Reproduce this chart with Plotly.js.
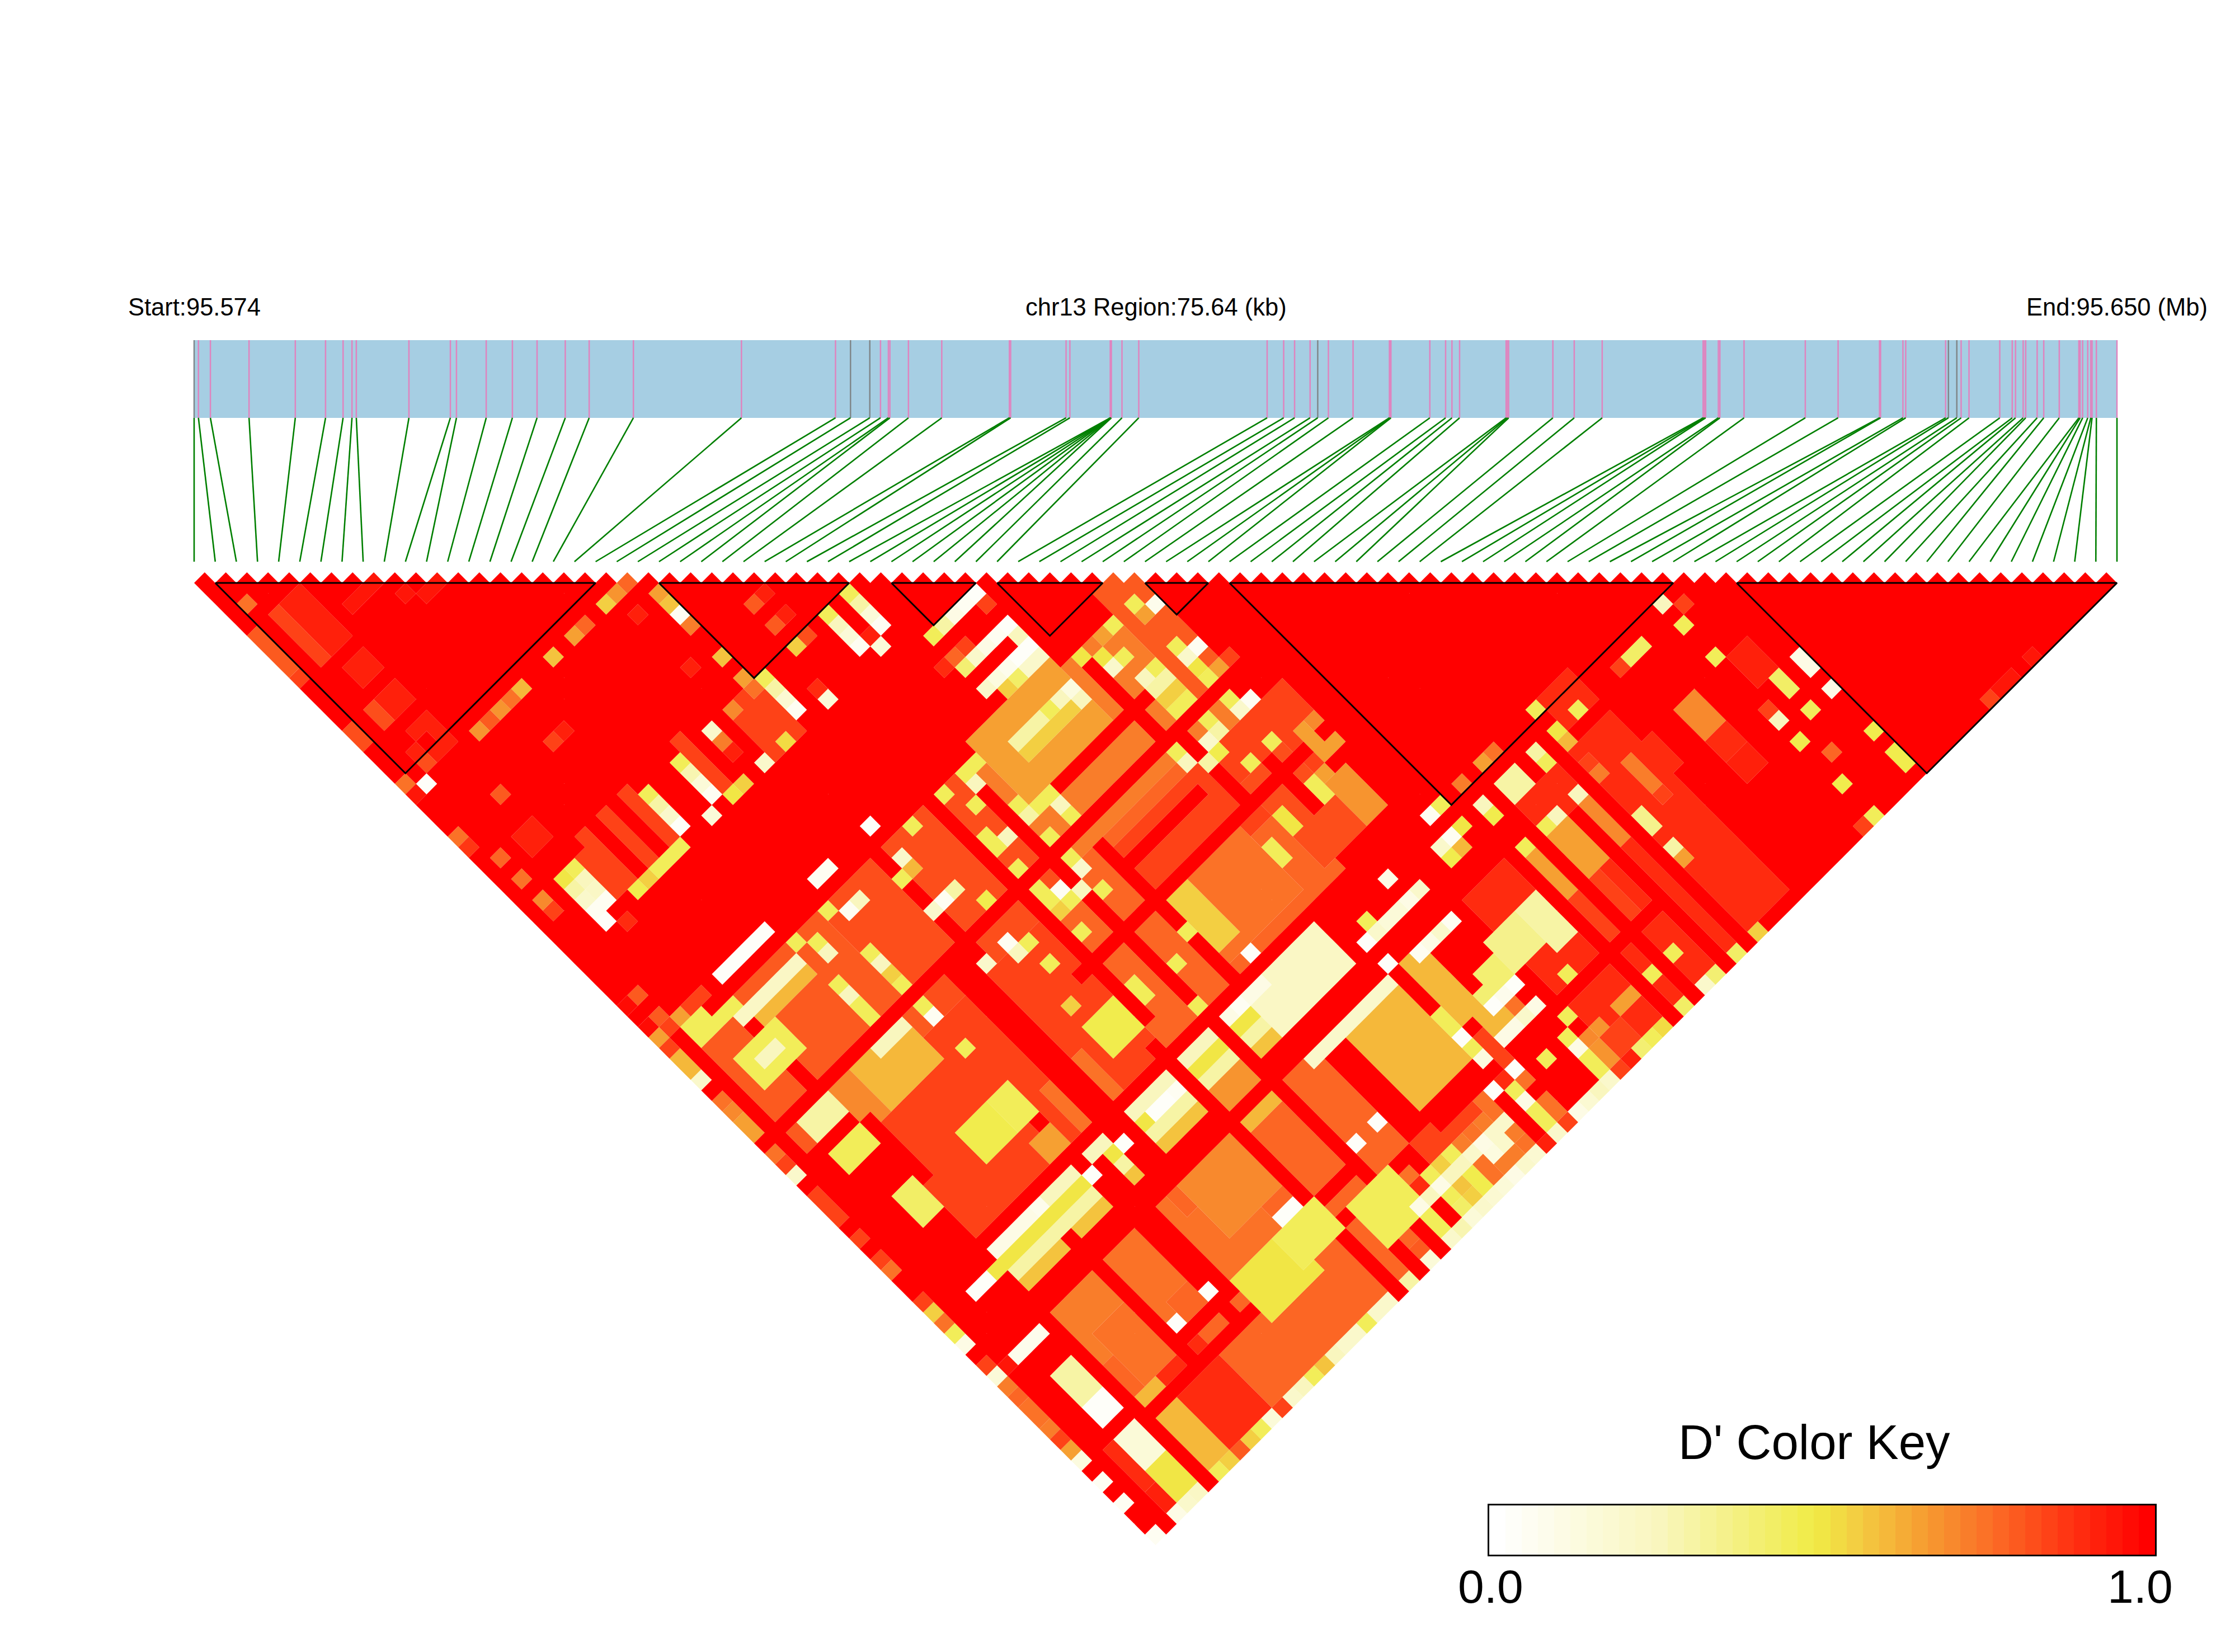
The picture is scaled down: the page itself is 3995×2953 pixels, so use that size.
<!DOCTYPE html>
<html><head><meta charset="utf-8"><script src="https://cdn.plot.ly/plotly-3.0.1.min.js"></script>
<style>html,body{margin:0;padding:0;background:#fff}</style></head><body><div id="chart" style="width:3995px;height:2953px"></div>
<script>
const regionKb = 75.64;
const snpKb = [0,0.17,0.64,2.16,3.98,5.17,5.86,6.21,6.38,8.45,10.08,10.32,11.49,12.52,13.49,14.60,15.54,17.28,21.53,25.23,25.82,26.58,27.00,27.31,27.37,28.10,29.41,32.07,32.12,34.30,34.45,36.04,36.05,36.06,36.06,36.07,36.08,36.50,37.16,42.21,42.86,43.29,43.90,44.20,44.62,45.59,47.02,47.05,47.08,48.61,49.23,49.48,49.78,51.61,51.66,51.71,53.45,54.29,55.39,59.36,59.41,59.46,59.96,60.02,60.97,63.38,64.67,66.30,66.34,67.22,67.33,68.90,69.01,69.34,69.51,69.82,71.03,71.52,71.65,71.95,72.05,72.50,72.76,73.37,74.14,74.19,74.29,74.49,74.61,74.66,74.83,75.64];
const greyKb = [0,25.82,26.58,44.20,69.01,69.34];
const blocks = [[1,19],[22,31],[33,37],[38,43],[45,48],[49,70],[73,91]];
const keyAnchors = [[0,'#ffffff'],[0.25,'#f9f6be'],[0.49,'#f0eb45'],[0.55,'#f3cf42'],[0.65,'#f6a032'],[0.76,'#fb6d26'],[0.88,'#ff3412'],[1,'#ff0000']];

// D' patches: [iFrom,iTo,jFrom,jTo,D']; every other pair reads 1.0
const broadAreas = [
 [6,28,56,69,.85],[2,14,46,56,.8],[14,30,46,56,.82],[6,30,76,90,.78],[28,42,46,56,.72],[42,44,44,53,.8],[24,40,56,69,.78],[30,46,57,62,.85],[45,60,74,90,.9],
 [19,21,32,36,.86],[8,8,31,35,.85],[10,10,31,35,.85],[6,6,31,35,.85],[5,5,32,35,.85],[15,15,31,35,.85],
 [6,29,70,70,.25],[6,29,71,71,.5],[6,29,72,72,.3],[6,29,73,73,.58],
 [31,37,62,67,.75],[31,32,62,66,.55],[30,36,70,73,.22],[33,41,75,83,.6],[29,36,45,50,.65],[5,10,74,80,.72],[10,16,75,80,.75],[7,11,79,83,.76],
 [16,20,78,82,.75],[18,22,75,80,.7],[16,19,65,68,.75],[23,27,73,75,.68],[24,27,75,76,.6],[6,9,55,58,.7],[8,12,54,58,.6],[8,11,84,90,.9],[6,7,84,90,.6],
 [40,43,60,67,.82],[44,45,64,67,.68],[45,46,60,62,.65],[49,53,77,80,.66],[49,52,81,84,.85],[64,65,77,79,.7],[64,65,80,81,.9],[60,61,77,79,.9],
 [55,55,76,80,.7],[69,70,77,79,.92],[64,65,82,83,.92],[58,60,70,72,.9],[47,48,79,82,.3],[44,46,79,81,.35],[41,43,80,81,.4],
 [2,2,85,88,.9],[3,4,85,87,.15],[3,4,88,90,.5],[2,2,89,90,.92]
];
const redStripes = [
 [0,46,54,54,1],[0,20,74,74,1],[40,51,74,74,1],[0,51,75,75,1],[23,46,61,61,1],[6,45,69,69,1],[5,53,85,85,1],[10,27,83,83,1],[29,39,51,51,1],[30,37,58,58,1],
 [1,1,46,91,1],[5,5,48,91,1],[17,18,54,75,1],[14,14,66,84,1],[15,15,71,82,1],[10,10,73,84,1],[19,19,41,56,1],[23,23,68,91,1],[24,24,44,66,1],[25,25,87,91,1],[27,27,46,91,1],[30,30,56,69,1],
 [38,38,47,54,1],[39,39,55,60,1],[42,42,60,64,1],[38,38,76,79,1],[41,41,76,80,1],[49,49,72,91,1],[51,51,70,91,1],[54,54,77,91,1],[56,56,74,91,1],
 [2,6,58,63,1],[2,5,65,69,1],[2,5,76,78,1],[45,47,46,48,1]
];
const paleColumns = [
 [6,10,70,70,.1],[5,10,71,71,.5],[38,43,84,84,.1],[30,37,76,76,.2],[40,43,76,76,.06],[39,43,73,73,.2],[28,31,70,70,.1],
 [5,10,47,47,.22],[6,10,48,48,.6],[3,5,46,46,.45],[6,10,44,44,.03],[15,16,44,44,.04],[31,36,47,47,.3],[31,36,48,48,.55],[6,10,36,36,.47],
 [3,4,79,81,.3],[3,4,82,83,.03],[3,4,71,71,.02],[4,5,63,65,.42],[10,12,63,65,.48],[13,14,63,65,.45],[3,6,49,51,.45],[4,5,50,50,.25],[2,3,45,46,.45],
 [3,5,55,56,.3],[3,5,58,59,.45],[10,12,55,55,.25],[13,14,67,68,.65],[21,23,64,66,.48],[16,20,83,86,.5],[20,23,83,85,.45],[25,28,85,88,.45],[47,48,88,88,.65],[44,45,88,90,.68],[45,46,89,90,.85]
];
const singleCells = [
 [1,4,.75],[2,6,.85],[2,7,.85],[2,8,.85],[2,9,.85],[2,10,.85],[3,6,.93],[3,7,.93],[3,8,.93],[3,9,.93],[3,10,.93],[4,6,.93],[4,7,.93],[4,8,.93],[4,9,.93],[4,10,.93],
 [6,9,.95],[7,9,.95],[8,9,.95],[9,11,.95],[10,12,.95],[11,12,.95],[3,12,.93],[3,13,.93],[4,12,.93],[4,13,.93],[2,15,.82],[2,16,.82],[3,15,.92],[3,16,.92],[4,15,.92],[4,16,.92],
 [3,18,.92],[4,18,.92],[4,19,.92],[3,20,.92],[4,20,.92],[2,19,.93],[2,20,.83],[1,21,.02],
 [18,21,.55],[19,21,.68],[20,21,.77],[16,21,.77],[15,21,.65],[13,21,.58],[10,21,.6],[9,21,.75],[8,21,.67],[7,21,.8],[6,21,.67],[19,23,.92],[9,25,.85],[10,25,.92],
 [21,23,.66],[21,24,.58],[21,25,.05],[21,26,.72],[25,28,.8],[26,28,.92],[25,30,.8],[26,30,.92],[25,32,.55],[26,32,.82],[21,29,.58],[19,28,.92],[21,31,.65],[21,32,.75],
 [22,32,.45],[22,33,.3],[22,34,.18],[22,35,.04],[19,32,.7],[20,36,.52],[18,36,.2],[16,36,.55],[15,36,.5],[24,35,.9],[24,36,.15],
 [30,32,.45],[30,33,.3],[30,34,.15],[30,35,.05],[28,32,.45],[28,33,.25],[28,34,.15],[28,35,.05],[29,36,.15],[29,35,.92],
 [17,32,.2],[17,33,.72],[17,34,.92],[14,32,.45],[14,33,.27],[14,34,.15],[14,35,.05],[13,36,.15],
 [11,32,.45],[11,33,.3],[11,34,.2],[11,35,.02],[10,36,.45],[9,36,.45],[8,36,.45],[7,36,.55],[6,36,.47],
 [4,32,.45],[4,33,.25],[4,34,.22],[4,35,.05],[3,32,.5],[3,33,.3],[3,34,.2],[3,35,.05],[3,36,.03],[4,37,.9],
 [1,28,.77],[1,30,.75],[3,28,.92],[3,29,.92],[4,28,.92],[4,29,.92],[1,32,.7],[1,33,.85],[4,25,.8],[1,41,.8],[1,43,.8],[2,44,.65],[1,44,.85],[3,44,.85],[4,44,.85],
 [32,38,.45],[33,38,.3],[34,38,.1],[35,38,.06],[36,38,.02],[36,39,.85],[36,41,.02],[35,41,.05],[34,41,.1],[33,41,.2],[32,41,.4],[36,42,.25],[36,43,.02],[35,43,.03],[34,43,.08],[33,43,.12],[32,43,.2],
 [36,44,.2],[35,44,.2],[34,44,.42],[33,44,.55],[33,40,.85],[32,40,.78],[31,40,.9],
 [36,47,.12],[36,48,.25],[35,47,.25],[34,47,.45],
 [44,51,.05],[43,50,.45],[43,51,.2],[43,52,.5],[43,53,.45],[45,53,.85],[44,53,.65],[43,46,.45],[44,47,.08],[43,47,.65],[41,46,.45],[40,46,.65],[40,48,.45],[39,48,.2],[39,47,.5],[38,46,.5],
 [41,50,.45],[41,51,.3],[41,52,.55],[41,53,.45],[40,50,.25],[40,51,.3],[40,52,.55],[40,53,.45],[44,56,.05],[43,55,.45],[43,56,.2],[41,55,.45],[41,56,.3],[40,56,.2],[40,57,.47],[38,55,.45],[38,56,.25],[39,57,.3],[43,59,.45],[41,59,.45],
 [45,60,.65],[45,61,.65],[46,60,.7],[43,63,.45],[43,64,.45],[44,63,.65],[40,63,.5],[40,64,.5],[38,64,.45],[38,65,.45],[47,70,.05],[48,70,.45],[46,72,.2],[47,72,.05],[42,71,.1],[43,73,.2],[41,73,.15],[40,73,.15],
 [68,71,.25],[69,72,.85],[68,73,.45],[65,72,.42],[64,72,.42],[63,72,.85],[68,76,.45],[72,80,.1],[72,81,.1],[72,83,.1],[70,80,.42],[70,81,.42],[70,83,.45],[72,87,.47],[72,89,.47],[72,90,.47],[68,82,.25],[68,81,.85],[68,84,.47],[69,86,.77],[68,88,.47],
 [59,77,.72],[59,78,.72],[59,79,.72],[59,80,.85],[57,80,.35],[57,81,.35],[57,83,.3],[57,84,.65],[57,76,.72],[57,75,.85],[55,76,.25],[53,76,.25],[52,76,.45],[50,76,.45],
 [52,72,.3],[53,72,.3],[52,73,.3],[53,73,.3],[55,72,.3],[55,73,.45],[50,72,.25],[50,73,.47],[57,72,.5],[57,73,.6],[59,72,.45],[57,70,.45],[53,70,.75],[52,70,.65],[50,70,.72],[48,72,.5],[46,73,.47],[47,73,.6],[42,73,.1],[43,76,.05],[42,76,.2],[41,76,.1],
 [43,81,.4],[43,84,.1],[42,84,.2],[41,84,.1],[42,83,.75],[43,82,.03],[42,82,.08],[41,82,.03],[38,82,.02],[39,82,1],[38,80,.45],[38,81,.45],[46,84,.45],[44,86,.45],[43,87,.45],[41,87,.45],[43,88,.1],[43,89,.45],[43,90,.45],[44,88,.7],[50,88,.45],[52,88,.45],
 [39,86,.03],[37,86,.03],[64,78,.7],[20,71,.03],[21,71,.03],[22,71,.05],[17,71,.03],[14,71,.03],[21,82,.03],[22,82,.03],[28,82,.02],[30,82,.03],[14,82,.03],[11,82,.03],[1,76,.95],[2,76,.08],[3,76,.08],[4,76,.08],[8,70,.1],[10,70,.08],
 [20,44,.03],[20,47,.2],[22,46,.45],[19,48,.45],[20,48,.6],[20,51,.05],[21,51,.3],[22,53,.47],[19,51,.2],[21,56,.06],[21,57,.25],[22,57,.45],[19,56,.2],[22,59,.45],
 [28,46,.45],[27,46,.45],[27,47,.25],[25,46,.45],[26,48,.45],[28,50,.45],[28,51,.3],[29,51,.45],[30,51,.45],[30,52,.25],[30,53,.45],[28,53,.45],[25,50,.45],[26,51,.25],[25,51,.45],[25,53,.45],[28,55,.45],[28,56,.2],
 [25,55,.45],[26,56,.06],[27,57,.25],[25,56,.45],[26,57,.45],[25,57,.55],[28,58,.45],[25,59,.45],[14,46,.45],[15,47,.05],[16,47,.25],[11,46,.45],[12,47,.45],[12,48,.25],[14,50,.45],[14,51,.25],[14,52,.55],[14,53,.45],
 [11,50,.45],[11,51,.25],[11,52,.45],[11,53,.45],[14,55,.45],[14,56,.06],[14,59,.45],[25,64,.45],[25,65,.45],[28,65,.45],[21,62,.55],[30,64,.45],[32,68,.03],[38,75,.03],[38,73,.03],[39,72,.45],[27,68,.45],[29,70,.04]
];
// Rows read cell by cell: [i, first j, values]
const rowReads = [
 [26,89,[.78,.8]],[28,87,[.45,.1,.45,.45]],[29,85,[1,.75,.9,.25,1,1]],[30,85,[1,1,.45,.1,.45,.42]],[31,85,[.85,.85,.55,.25,.58,.55]],[32,85,[.85,.85,.45,.25,.47,.48]],
 [33,85,[1,.85,.72,.2,.75,.75]],[34,85,[1,.85,.75,.1,.12,.72]],[35,85,[1,.85,.72,.2,.2,.72]],[36,85,[1,.75,.75,.2,.72,.75]],
 [38,80,[.45,.45,.03,.45,.12,1,.9,.45,.1,.45,.45]],[39,82,[1,.85,.85,.85,.03,.75,1,.75,.75]]
];
const edgeLeft = [1,1,1,1,1,.8,.8,.8,.8,.85,1,1,1,1,.83,.83,1,1,1,.75,.95,1,1,1,.75,.88,1,1,1,1,1,1,1,1,1,1,1,1,1,1,.97,1,.97,.65,.85,.6,.6,.2,1,.75,.7,.65,.65,1,.75,.85,.2,1,.85,.85,.85,1,.85,1,.85,.75,1,1,.85,.55,.75,.45,.1,1,.85,.15,.72,.77,.75,.75,.72,.85,.65,.12,1,.05,1,.05,1,1,.05];
const edgeRight = [.05,1,.1,.2,.22,1,.45,.55,.8,.55,.45,.15,.85,.2,.25,.45,.58,.25,.2,.2,.45,.2,.2,1,.3,1,.15,1,.2,.27,.15,.2,.18,.15,.1,.2,.18,.92,.2,.85,.1,.18,.25,.2,.85,.92,.4,.45,.52,1,.42,1,.2,.4,1,.42,1,.55,1,1,1,1,1,1,1,1,1,.85,.45,1,1,1,1,1,1,1,1,1,1,.85,.95,.95,1,.95,1,1,1,1,1,1,1];

const N = snpKb.length;
const hexToRgb = h => [1,3,5].map(k => parseInt(h.substr(k,2),16));
function colourOf(v){
  for(let k=1;k<keyAnchors.length;k++){
    if(v<=keyAnchors[k][0]){
      const a=keyAnchors[k-1],b=keyAnchors[k],t=(v-a[0])/(b[0]-a[0]);
      const A=hexToRgb(a[1]),B=hexToRgb(b[1]);
      return 'rgb('+A.map((c,n)=>Math.round(c+(B[n]-c)*t)).join(',')+')';
    }
  }
  return keyAnchors[keyAnchors.length-1][1];
}
const D = [];
for(let i=0;i<N;i++){D.push(new Array(N).fill(1));}
function paint(list){list.forEach(p=>{for(let i=p[0];i<=p[1];i++)for(let j=p[2];j<=p[3];j++)if(i<j&&j<N)D[i][j]=p[4];});}
paint(broadAreas);paint(redStripes);paint(paleColumns);
singleCells.forEach(c=>{D[c[0]][c[1]]=c[2];});
rowReads.forEach(r=>r[2].forEach((v,k)=>{D[r[0]][r[1]+k]=v;}));
edgeLeft.forEach((v,k)=>{D[0][k+1]=v;});
edgeRight.forEach((v,i)=>{D[i][91]=v;});

const byLevel = {};
for(let i=0;i<N;i++)for(let j=i+1;j<N;j++){
  const lv=Math.round(D[i][j]*40);
  const t=byLevel[lv]||(byLevel[lv]={x:[],y:[]});
  const cx=(i+j)/2,cy=j-i-1;
  t.x.push(cx-.5,cx,cx+.5,cx,cx-.5,null);
  t.y.push(cy,cy-1,cy,cy+1,cy,null);
}
const traces=[];
Object.keys(byLevel).forEach(lv=>{
  traces.push({type:'scatter',mode:'lines',x:byLevel[lv].x,y:byLevel[lv].y,fill:'toself',fillcolor:colourOf(lv/40),line:{width:0,color:colourOf(lv/40)},hoverinfo:'skip',showlegend:false});
});
const snpX = snpKb.map(k=>k/regionKb*(N-1));
const bandTop=-22.96,bandBottom=-15.61,leadBottom=-2.01;
traces.unshift({type:'scatter',mode:'lines',x:[0,N-1,N-1,0,0],y:[bandTop,bandTop,bandBottom,bandBottom,bandTop],fill:'toself',fillcolor:'#a6cee3',line:{width:0},hoverinfo:'skip',showlegend:false});
function lineTrace(idx,col){const x=[],y=[];idx.forEach(i=>{x.push(snpX[i],snpX[i],null);y.push(bandTop,bandBottom,null);});
  return {type:'scatter',mode:'lines',x,y,line:{color:col,width:2.5},hoverinfo:'skip',showlegend:false};}
const allIdx=snpKb.map((_,i)=>i);
traces.push(lineTrace(allIdx.filter(i=>!greyKb.includes(snpKb[i])),'#df84bf'));
traces.push(lineTrace(allIdx.filter(i=>greyKb.includes(snpKb[i])),'#80878a'));
const gx=[],gy=[];allIdx.forEach(i=>{gx.push(snpX[i],i,null);gy.push(bandBottom,leadBottom,null);});
traces.push({type:'scatter',mode:'lines',x:gx,y:gy,line:{color:'#007f00',width:2.6},hoverinfo:'skip',showlegend:false});
const bx=[],by=[];blocks.forEach(b=>{bx.push(b[0],b[1],(b[0]+b[1])/2,b[0],null);by.push(0,0,b[1]-b[0],0,null);});
traces.push({type:'scatter',mode:'lines',x:bx,y:by,line:{color:'#000',width:3},hoverinfo:'skip',showlegend:false});
// colour key
const keySteps=41,keyVals=[];for(let k=0;k<keySteps;k++)keyVals.push(k/(keySteps-1));
traces.push({type:'heatmap',xaxis:'x2',yaxis:'y2',z:[keyVals],x:keyVals.map((_,k)=>(k+.5)/keySteps),y:[0.5],zmin:0,zmax:1,showscale:false,hoverinfo:'skip',
  colorscale:keyVals.map((v,k)=>[k/(keySteps-1),colourOf(v)])});
const A=(text,px,py,size)=>({text,xref:'paper',yref:'paper',x:px/3995,y:1-py/2953,xanchor:'center',yanchor:'middle',showarrow:false,font:{family:'Liberation Sans, Arial, sans-serif',size,color:'#000'}});
const hide={visible:false,fixedrange:true};
Plotly.newPlot('chart',traces,{
  width:3995,height:2953,margin:{l:0,r:0,t:0,b:0},paper_bgcolor:'#fff',plot_bgcolor:'#fff',showlegend:false,
  xaxis:Object.assign({range:[-9.187,96.586],domain:[0,1]},hide),
  yaxis:Object.assign({range:[101.11,-55.13],domain:[0,1]},hide),
  xaxis2:{domain:[2662/3995,3852/3995],range:[0,1],anchor:'y2',showticklabels:false,ticks:'',showgrid:false,zeroline:false,showline:true,mirror:true,linecolor:'#000',linewidth:3,fixedrange:true},
  yaxis2:{domain:[1-2779/2953,1-2691/2953],range:[0,1],anchor:'x2',showticklabels:false,ticks:'',showgrid:false,zeroline:false,showline:true,mirror:true,linecolor:'#000',linewidth:3,fixedrange:true},
  annotations:[A('Start:95.574',347,549,43.5),A('chr13 Region:75.64 (kb)',2066,549,43.5),A('End:95.650 (Mb)',3784,549,43.5),A("D' Color Key",3243,2577,87),A('0.0',2664,2836,84),A('1.0',3825,2836,84)]
},{staticPlot:true,displayModeBar:false});
</script></body></html>
